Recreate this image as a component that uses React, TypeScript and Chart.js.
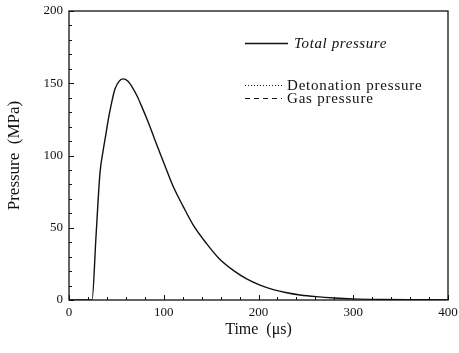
import React, { useEffect, useRef } from 'react';
import { Chart, registerables } from 'chart.js';

Chart.register(...registerables);

const timeUs = [0, 24.3, 28.5, 32.7, 36.2, 38.5, 41.5, 44, 48.5, 53, 57.3, 62, 67, 72, 76.7, 83, 90, 97, 103, 110, 120.6, 131, 145, 159.4, 173.4, 187.5, 201.6, 215.6, 229.8, 243.8, 261, 280, 300, 330, 360, 400];
const totalPressure = [0, 0, 44, 88, 104, 113, 125, 133.5, 146, 151.5, 153, 151.5, 147, 141, 134, 124, 112, 100, 90, 78.5, 64.6, 52, 39.2, 28, 20.5, 14.6, 10.3, 7.2, 5.0, 3.5, 2.3, 1.4, 0.8, 0.4, 0.2, 0.1];
const detonationTime: number[] = [];
const detonationPressure: number[] = [];
const gasTime: number[] = [];
const gasPressure: number[] = [];
const xTicks = [0, 100, 200, 300, 400];
const yTicks = [0, 50, 100, 150, 200];
const seriesLabels = ['Total pressure', 'Detonation pressure', 'Gas pressure'];

const FONT = '"Liberation Serif", "DejaVu Serif", "Times New Roman", serif';
const INK = '#111111';

const toPoints = (xs: number[], ys: number[]) => xs.map((x, i) => ({ x, y: ys[i] }));

const noScalePadding = (s: any) => {
  s.paddingTop = 0;
  s.paddingBottom = 0;
  s.paddingLeft = 0;
  s.paddingRight = 0;
};

const framePlugin = {
  id: 'frameAndLegend',
  afterDraw(chart: any) {
    const ctx = chart.ctx;
    const { left, right, top, bottom } = chart.chartArea;
    const xs = chart.scales.x;
    const ys = chart.scales.y;
    ctx.save();
    ctx.strokeStyle = INK;
    ctx.lineWidth = 1.3;
    ctx.strokeRect(left, top, right - left, bottom - top);
    ctx.lineWidth = 1;
    ctx.beginPath();
    for (let v = 0; v <= 400; v += 20) {
      const px = Math.round(xs.getPixelForValue(v)) + 0.5;
      const len = v % 100 === 0 ? 5 : 3;
      ctx.moveTo(px, bottom);
      ctx.lineTo(px, bottom - len);
    }
    for (let v = 0; v <= 200; v += 10) {
      const py = Math.round(ys.getPixelForValue(v)) + 0.5;
      const len = v % 50 === 0 ? 5 : 3;
      ctx.moveTo(left, py);
      ctx.lineTo(left + len, py);
    }
    ctx.stroke();

    // legend
    const rows = [
      { y: top + 32, x0: left + 176, x1: left + 219, tx: left + 225, italic: true, spacing: '0.6px' },
      { y: top + 74, x0: left + 176, x1: left + 213, tx: left + 218, italic: false, spacing: '0.8px' },
      { y: top + 87, x0: left + 176, x1: left + 213, tx: left + 218, italic: false, spacing: '0.8px' },
    ];
    chart.data.datasets.forEach((ds: any, i: number) => {
      const r = rows[i];
      ctx.beginPath();
      ctx.lineWidth = i === 0 ? 1.3 : 1;
      ctx.setLineDash(ds.borderDash || []);
      ctx.moveTo(r.x0, r.y + 0.5);
      ctx.lineTo(r.x1, r.y + 0.5);
      ctx.stroke();
      ctx.setLineDash([]);
      ctx.fillStyle = INK;
      ctx.font = `${r.italic ? 'italic ' : ''}15px ${FONT}`;
      (ctx as any).letterSpacing = r.spacing;
      ctx.textBaseline = 'middle';
      ctx.textAlign = 'left';
      ctx.fillText(ds.label, r.tx, r.y + 1);
      (ctx as any).letterSpacing = '0px';
    });
    ctx.restore();
  },
};

export default function App() {
  const ref = useRef<HTMLCanvasElement | null>(null);
  useEffect(() => {
    document.body.style.margin = '0';
    const canvas = ref.current;
    if (!canvas) return;
    const chart = new Chart(canvas, {
      type: 'line',
      data: {
        datasets: [
          {
            label: seriesLabels[0],
            data: toPoints(timeUs, totalPressure),
            borderColor: INK,
            borderWidth: 1.4,
            pointRadius: 0,
            fill: false,
            cubicInterpolationMode: 'monotone',
          },
          {
            label: seriesLabels[1],
            data: toPoints(detonationTime, detonationPressure),
            borderColor: INK,
            borderWidth: 1,
            borderDash: [1, 2],
            pointRadius: 0,
            fill: false,
          },
          {
            label: seriesLabels[2],
            data: toPoints(gasTime, gasPressure),
            borderColor: INK,
            borderWidth: 1,
            borderDash: [5, 4],
            pointRadius: 0,
            fill: false,
          },
        ],
      },
      options: {
        responsive: false,
        animation: false,
        layout: { padding: { top: 11, right: 11, left: 0, bottom: 0 } },
        plugins: { legend: { display: false }, tooltip: { enabled: false } },
        scales: {
          x: {
            type: 'linear',
            min: 0,
            max: 400,
            afterBuildTicks: (s: any) => { s.ticks = xTicks.map((v) => ({ value: v })); },
            afterFit: (s: any) => { s.height = 53; noScalePadding(s); },
            grid: { display: false, drawTicks: false },
            border: { display: false },
            ticks: { color: INK, font: { family: FONT, size: 13 }, padding: 5 },
            title: { display: true, text: 'Time  (μs)', color: INK, font: { family: FONT, size: 16 }, padding: { bottom: 14 } },
          },
          y: {
            type: 'linear',
            min: 0,
            max: 200,
            afterBuildTicks: (s: any) => { s.ticks = yTicks.map((v) => ({ value: v })); },
            afterFit: (s: any) => { s.width = 69; noScalePadding(s); },
            grid: { display: false, drawTicks: false },
            border: { display: false },
            ticks: { color: INK, font: { family: FONT, size: 13 }, padding: 6 },
            title: { display: true, text: 'Pressure  (MPa)', color: INK, font: { family: FONT, size: 17 }, padding: { top: 4 } },
          },
        },
      },
      plugins: [framePlugin],
    } as any);
    return () => chart.destroy();
  }, []);
  return <canvas ref={ref} width={459} height={353} style={{ display: 'block' }} />;
}
